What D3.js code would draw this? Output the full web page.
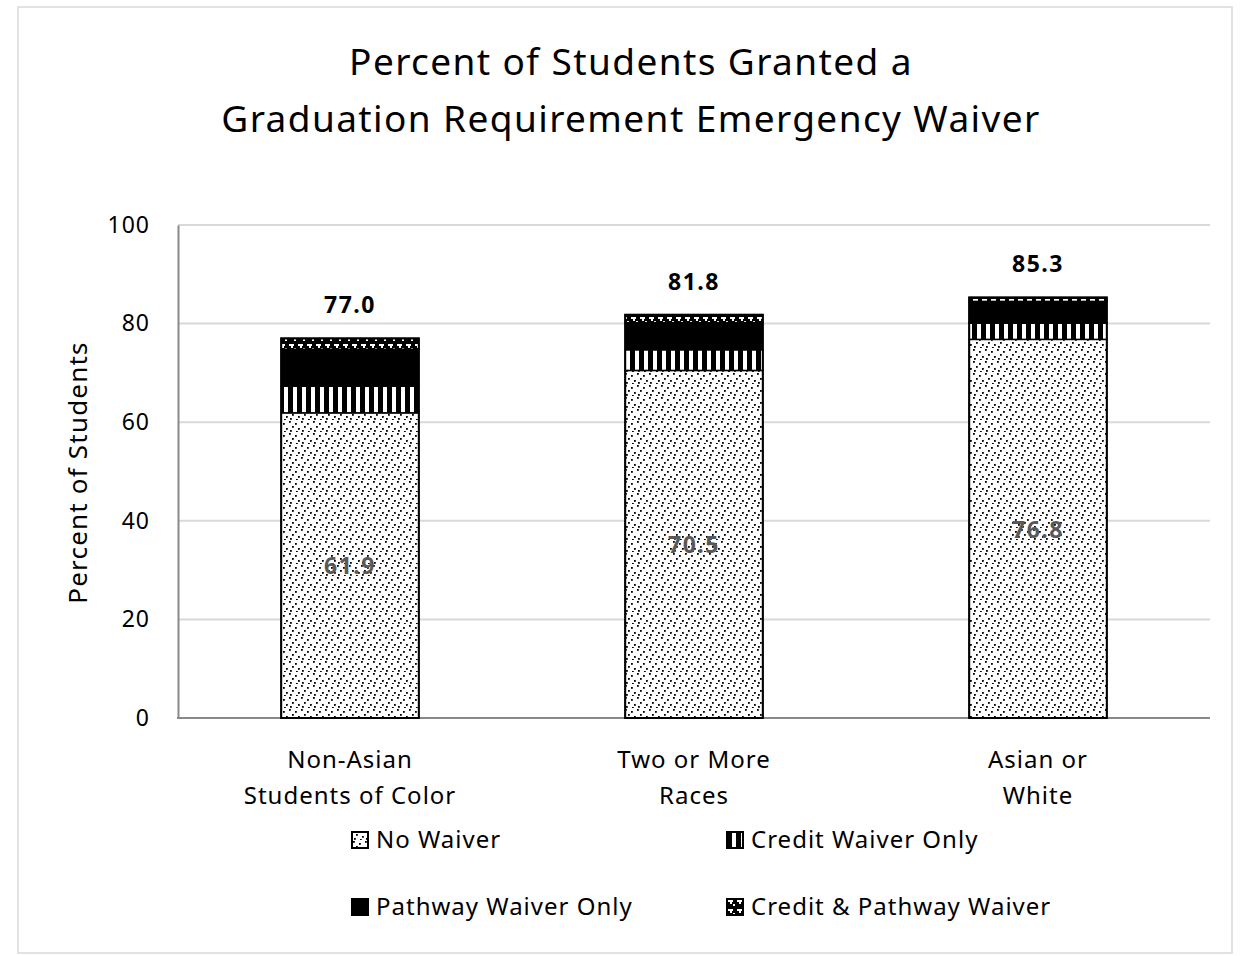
<!DOCTYPE html>
<html>
<head>
<meta charset="utf-8">
<script src="https://cdn.jsdelivr.net/npm/d3@7"></script>
<style>
  body { margin: 0; background: #fff; }
  text { font-family: "Noto Sans", "Open Sans", sans-serif; }
</style>
</head>
<body>
<div id="chart"></div>
<script>
// Chart values.
const categories = [["Non-Asian", "Students of Color"], ["Two or More", "Races"], ["Asian or", "White"]];
const seriesNames = ["No Waiver", "Credit Waiver Only", "Pathway Waiver Only", "Credit & Pathway Waiver"];
const noWaiver = [61.9, 70.5, 76.8];
const creditOnly = [5.4, 4.2, 3.3];
const pathwayOnly = [7.5, 5.5, 4.4];
const creditPathway = [2.2, 1.6, 0.8];
const totals = [77.0, 81.8, 85.3];
const yTicks = [0, 20, 40, 60, 80, 100];

const W = 1240, H = 956;
const margin = { top: 225, right: 30, bottom: 238, left: 178 };

const svg = d3.select("#chart").append("svg")
  .attr("width", W)
  .attr("height", H);

// Chart frame
svg.append("rect")
  .attr("x", 18).attr("y", 7)
  .attr("width", 1214).attr("height", 946)
  .attr("fill", "#fff")
  .attr("stroke", "#d9d9d9")
  .attr("stroke-width", 1.5);

// Fill patterns for the four series.
const defs = svg.append("defs");

const pDots = defs.append("pattern")
  .attr("id", "p-dots").attr("patternUnits", "userSpaceOnUse")
  .attr("width", 12).attr("height", 12);
pDots.append("rect").attr("width", 12).attr("height", 12).attr("fill", "#fff");
[[1, 1], [7, 3], [4, 6], [10, 8], [2, 10], [8, 11]].forEach(([x, y]) =>
  pDots.append("rect").attr("x", x).attr("y", y).attr("width", 1.8).attr("height", 1.8).attr("fill", "#000"));

const pStripes = defs.append("pattern")
  .attr("id", "p-stripes").attr("patternUnits", "userSpaceOnUse")
  .attr("width", 9).attr("height", 9);
pStripes.append("rect").attr("width", 9).attr("height", 9).attr("fill", "#000");
pStripes.append("rect").attr("x", 5).attr("width", 4).attr("height", 9).attr("fill", "#fff");

const pSolid = defs.append("pattern")
  .attr("id", "p-solid").attr("patternUnits", "userSpaceOnUse")
  .attr("width", 8).attr("height", 8);
pSolid.append("rect").attr("width", 8).attr("height", 8).attr("fill", "#000");

const pConfetti = defs.append("pattern")
  .attr("id", "p-confetti").attr("patternUnits", "userSpaceOnUse")
  .attr("width", 9).attr("height", 9);
pConfetti.append("rect").attr("width", 9).attr("height", 9).attr("fill", "#000");
pConfetti.append("rect").attr("x", 1).attr("y", 2).attr("width", 5).attr("height", 2).attr("fill", "#fff");
pConfetti.append("rect").attr("x", 3).attr("y", 4).attr("width", 2).attr("height", 2).attr("fill", "#fff");
pConfetti.append("rect").attr("x", 6).attr("y", 6).attr("width", 2).attr("height", 2).attr("fill", "#fff");

const fills = ["url(#p-dots)", "url(#p-stripes)", "url(#p-solid)", "url(#p-confetti)"];

// Title
svg.append("text")
  .attr("x", 631).attr("y", 0)
  .attr("text-anchor", "middle")
  .attr("font-size", 37)
  .attr("letter-spacing", 1.4)
  .attr("fill", "#000")
  .selectAll("tspan")
  .data(["Percent of Students Granted a", "Graduation Requirement Emergency Waiver"])
  .join("tspan")
  .attr("x", 631)
  .attr("y", (d, i) => 75 + i * 57)
  .text(d => d);

// Scales
const x = d3.scaleBand()
  .domain(d3.range(categories.length))
  .range([margin.left, W - margin.right])
  .padding(0);

const y = d3.scaleLinear()
  .domain([0, 100])
  .range([H - margin.bottom, margin.top]);

const barW = x.bandwidth() * 0.4;

// Gridlines
svg.append("g")
  .selectAll("line")
  .data(yTicks.filter(d => d > 0))
  .join("line")
  .attr("x1", margin.left).attr("x2", W - margin.right)
  .attr("y1", d => y(d)).attr("y2", d => y(d))
  .attr("stroke", "#d9d9d9")
  .attr("stroke-width", 2);

// Y axis
const yAxis = svg.append("g")
  .attr("transform", `translate(${margin.left},0)`)
  .call(d3.axisLeft(y).tickValues(yTicks).tickSize(0).tickPadding(28));
yAxis.select(".domain").attr("stroke", "#898989").attr("stroke-width", 2);
yAxis.selectAll("text").attr("font-size", 23).attr("fill", "#000")
  .attr("letter-spacing", 1)
  .attr("font-family", "'Noto Sans', sans-serif");

// X axis line
svg.append("line")
  .attr("x1", margin.left - 1).attr("x2", W - margin.right)
  .attr("y1", y(0)).attr("y2", y(0))
  .attr("stroke", "#898989")
  .attr("stroke-width", 2);

// Y axis title
svg.append("text")
  .attr("transform", `translate(87,${(y(0) + y(100)) / 2 + 1}) rotate(-90)`)
  .attr("text-anchor", "middle")
  .attr("font-size", 26)
  .attr("letter-spacing", 1.2)
  .attr("fill", "#000")
  .text("Percent of Students");

// Stacked bars
const rows = categories.map((c, i) => ({
  i,
  s0: noWaiver[i], s1: creditOnly[i], s2: pathwayOnly[i], s3: creditPathway[i]
}));
const stack = d3.stack().keys(["s0", "s1", "s2", "s3"]);
const layers = stack(rows);

svg.append("g")
  .selectAll("g")
  .data(layers)
  .join("g")
  .attr("fill", (d, k) => fills[k])
  .selectAll("rect")
  .data(d => d)
  .join("rect")
  .attr("x", d => x(d.data.i) + (x.bandwidth() - barW) / 2)
  .attr("y", d => y(d[1]))
  .attr("width", barW)
  .attr("height", d => y(d[0]) - y(d[1]))
  .attr("stroke", "#000")
  .attr("stroke-width", 1.5);

// Outline around each whole bar
svg.append("g")
  .selectAll("rect")
  .data(totals)
  .join("rect")
  .attr("x", (d, i) => x(i) + (x.bandwidth() - barW) / 2)
  .attr("y", d => y(d))
  .attr("width", barW)
  .attr("height", d => y(0) - y(d))
  .attr("fill", "none")
  .attr("stroke", "#000")
  .attr("stroke-width", 2);

// Total labels
svg.append("g")
  .selectAll("text")
  .data(totals)
  .join("text")
  .attr("x", (d, i) => x(i) + x.bandwidth() / 2)
  .attr("y", d => y(d) - 25)
  .attr("text-anchor", "middle")
  .attr("font-size", 23)
  .attr("letter-spacing", 1.5)
  .attr("font-weight", "bold")
  .attr("fill", "#000")
  .text(d => d.toFixed(1));

// No Waiver segment labels
svg.append("g")
  .selectAll("text")
  .data(noWaiver)
  .join("text")
  .attr("x", (d, i) => x(i) + x.bandwidth() / 2)
  .attr("y", d => y(d / 2) + 9)
  .attr("text-anchor", "middle")
  .attr("font-size", 23)
  .attr("letter-spacing", 1.5)
  .attr("font-weight", "bold")
  .attr("fill", "#595959")
  .text(d => d.toFixed(1));

// Category labels
svg.append("g")
  .selectAll("text")
  .data(categories)
  .join("text")
  .attr("text-anchor", "middle")
  .attr("font-size", 24)
  .attr("letter-spacing", 1)
  .attr("fill", "#000")
  .each(function(d, i) {
    d3.select(this).selectAll("tspan")
      .data(d)
      .join("tspan")
      .attr("x", x(i) + x.bandwidth() / 2)
      .attr("y", (t, j) => 768 + j * 36)
      .text(t => t);
  });

// Legend
const legendPos = [[352, 840], [727, 840], [352, 907], [727, 907]];
const legend = svg.append("g")
  .selectAll("g")
  .data(seriesNames)
  .join("g")
  .attr("transform", (d, i) => `translate(${legendPos[i][0]},${legendPos[i][1]})`);

legend.append("rect")
  .attr("x", 0).attr("y", -8)
  .attr("width", 16).attr("height", 16)
  .attr("fill", (d, i) => fills[i])
  .attr("stroke", "#000")
  .attr("stroke-width", 2);

legend.append("text")
  .attr("x", 24).attr("y", 8)
  .attr("font-size", 24)
  .attr("letter-spacing", 1)
  .attr("fill", "#000")
  .text(d => d);
</script>
</body>
</html>
